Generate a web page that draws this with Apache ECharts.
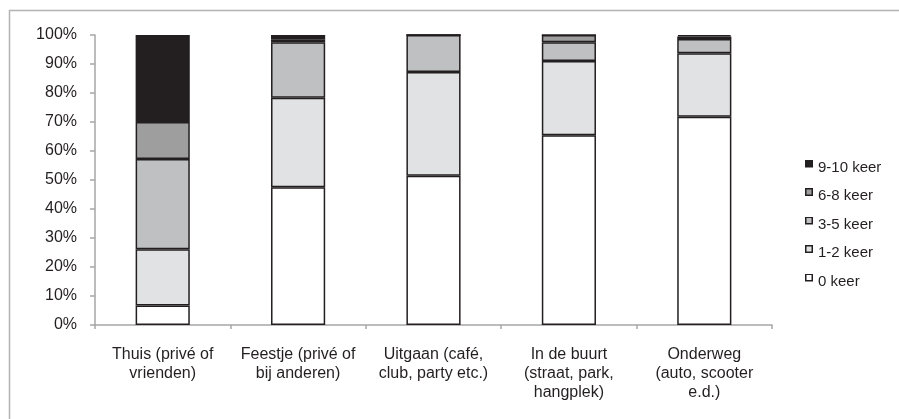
<!DOCTYPE html>
<html>
<head>
<meta charset="utf-8">
<script src="https://cdn.jsdelivr.net/npm/echarts@6/dist/echarts.min.js"></script>
<style>
html,body{margin:0;padding:0;background:#fff;}
#chart{width:899px;height:419px;}
</style>
</head>
<body>
<div id="chart"></div>
<script>
var categories = [
  'Thuis (privé of\nvrienden)',
  'Feestje (privé of\nbij anderen)',
  'Uitgaan (café,\nclub, party etc.)',
  'In de buurt\n(straat, park,\nhangplek)',
  'Onderweg\n(auto, scooter\ne.d.)'
];
var seriesNames = ['0 keer', '1-2 keer', '3-5 keer', '6-8 keer', '9-10 keer'];
var keer0   = [6.7, 47.5, 51.5, 65.4, 71.8];
var keer1_2 = [19.4, 30.9, 35.7, 25.6, 21.9];
var keer3_5 = [31.1, 19.1, 12.8, 6.5, 4.9];
var keer6_8 = [12.8, 1.0, 0, 2.5, 0.9];
var keer9_10 = [30.0, 1.5, 0, 0, 0.5];
var yTicks = [0, 10, 20, 30, 40, 50, 60, 70, 80, 90, 100];

var seriesData = [keer0, keer1_2, keer3_5, keer6_8, keer9_10];
var colors = ['#ffffff', '#e1e2e3', '#bfc0c1', '#9e9e9e', '#231f20'];
var textColor = '#231f20';
var font = 'Liberation Sans';

function legendIcon(fill) {
  var svg = "<svg xmlns='http://www.w3.org/2000/svg' width='8' height='16'>" +
    "<rect x='0.75' y='0.75' width='6.5' height='6.5' fill='" + fill +
    "' stroke='#231f20' stroke-width='1.5'/></svg>";
  return 'image://data:image/svg+xml;charset=utf-8,' + encodeURIComponent(svg);
}

var legendData = seriesNames.map(function (n, i) {
  return {name: n, icon: legendIcon(colors[i])};
}).reverse();

var chart = echarts.init(document.getElementById('chart'), null, {renderer: 'canvas'});
var series = seriesNames.map(function (name, i) {
  return {
    name: name,
    type: 'bar',
    stack: 'total',
    barWidth: '40%',
    data: seriesData[i],
    itemStyle: {color: colors[i], borderColor: '#231f20', borderWidth: 1.5},
    emphasis: {disabled: true}
  };
});

chart.setOption({
  animation: false,
  backgroundColor: '#ffffff',
  textStyle: {fontFamily: font, color: textColor},
  graphic: [{
    type: 'rect',
    shape: {x: 9.5, y: 10.5, width: 1000, height: 1000},
    style: {fill: 'none', stroke: '#b3b3b3', lineWidth: 1.5},
    silent: true
  }],
  grid: {left: 95, right: 127, top: 35, bottom: 94, containLabel: false},
  legend: {
    orient: 'vertical',
    left: 800,
    top: 154.5,
    itemWidth: 8,
    itemHeight: 16,
    itemGap: 12.5,
    data: legendData,
    textStyle: {fontFamily: font, fontSize: 15, color: textColor},
    selectedMode: false
  },
  xAxis: {
    type: 'category',
    data: categories,
    axisLine: {lineStyle: {color: '#a6a6a6', width: 1.5}},
    axisTick: {show: true, length: 4, lineStyle: {color: '#a6a6a6', width: 1.5}},
    axisLabel: {
      interval: 0, margin: 20, fontFamily: font, fontSize: 16, color: textColor,
      lineHeight: 19, align: 'center', verticalAlign: 'top'
    },
    splitLine: {show: false}
  },
  yAxis: {
    type: 'value',
    min: 0,
    max: 100,
    interval: 10,
    axisLine: {show: true, lineStyle: {color: '#a6a6a6', width: 1.5}},
    axisTick: {show: true, length: 5, lineStyle: {color: '#a6a6a6', width: 1.5}},
    axisLabel: {
      margin: 18, fontFamily: font, fontSize: 16, color: textColor,
      formatter: function (v) { return yTicks.indexOf(v) >= 0 ? v + '%' : ''; }
    },
    splitLine: {show: false}
  },
  series: series
});
</script>
</body>
</html>
